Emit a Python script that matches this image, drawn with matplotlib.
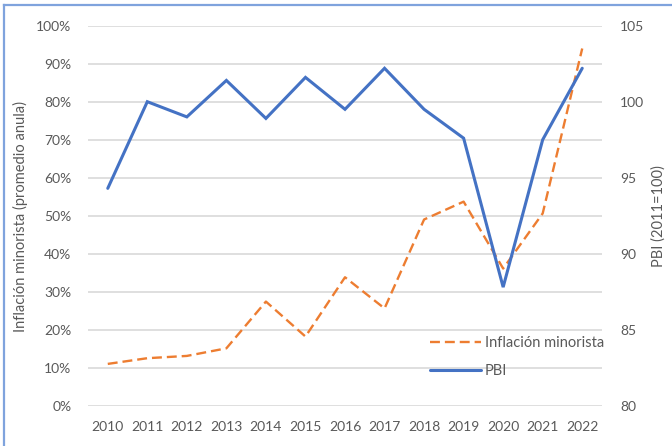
import matplotlib
matplotlib.use("Agg")
import matplotlib.pyplot as plt
from matplotlib.lines import Line2D

plt.rcParams['font.family'] = ['Lato', 'DejaVu Sans']

years = ['2010', '2011', '2012', '2013', '2014', '2015', '2016',
         '2017', '2018', '2019', '2020', '2021', '2022']
inflacion = [11.0, 12.5, 13.1, 15.1, 27.4, 18.2, 33.8,
             25.6, 49.0, 53.7, 36.1, 50.6, 94.0]          # % promedio anual
pbi = [94.3, 100.0, 99.0, 101.4, 98.9, 101.6, 99.5,
       102.2, 99.5, 97.6, 87.8, 97.5, 102.2]             # índice 2011=100
left_ticks = [0, 10, 20, 30, 40, 50, 60, 70, 80, 90, 100]
right_ticks = [80, 85, 90, 95, 100, 105]

ORANGE = '#ED7D31'
BLUE = '#4472C4'
GRID = '#D9D9D9'
TEXT = '#595959'

W, H = 672, 446
fig = plt.figure(figsize=(W / 100, H / 100), dpi=100)
fig.patch.set_facecolor('white')

ax = fig.add_axes([88 / W, 1 - 405.7 / H, (602 - 88) / W, (405.7 - 25.7) / H])
ax2 = ax.twinx()

x = list(range(len(years)))

# Inflation on the left axis
l1, = ax.plot(x, inflacion, color=ORANGE, lw=1.7, dashes=(4.2, 2.1),
              zorder=3, label='Inflación minorista')
ax.set_ylim(0, 100)
ax.set_xlim(-0.5, len(years) - 0.5)
ax.set_yticks(left_ticks)
ax.set_yticklabels([f'{t}%' for t in left_ticks])
ax.set_xticks(x)
ax.set_xticklabels(years)
ax.yaxis.grid(True, color=GRID, lw=1.2)
ax.set_axisbelow(True)

# GDP index on the right axis
l2, = ax2.plot(x, pbi, color=BLUE, lw=2.2, solid_capstyle='round',
               solid_joinstyle='miter', zorder=3, label='PBI')
ax2.set_ylim(80, 105)
ax2.set_yticks(right_ticks)

for a in (ax, ax2):
    for s in a.spines.values():
        s.set_visible(False)
    a.tick_params(length=0, labelsize=10, labelcolor=TEXT)
ax.tick_params(axis='y', pad=12)
ax.tick_params(axis='x', pad=11)
ax2.tick_params(axis='y', pad=13)

fig.text(20 / W, 1 - 216 / H, 'Inflación minorista (promedio anula)',
         rotation=90, ha='center', va='center', fontsize=10.5, color=TEXT)
fig.text(659 / W, 1 - 216 / H, 'PBI (2011=100)',
         rotation=90, ha='center', va='center', fontsize=10.5, color=TEXT)

leg = ax.legend(handles=[l1, l2], loc='center left',
                bbox_to_anchor=((430 - 88) / 514, (405.7 - 357) / 380),
                frameon=False, fontsize=10.5, labelcolor=TEXT,
                handlelength=3.5, handletextpad=0.25, labelspacing=0.95,
                borderpad=0, borderaxespad=0)
leg.set_zorder(5)

# Thin blue frame along the top and left edges
fig.add_artist(Line2D([4 / W, 1], [1 - 5 / H, 1 - 5 / H], transform=fig.transFigure,
                      color='#7FA3DD', lw=1.6))
fig.add_artist(Line2D([4 / W, 4 / W], [0, 1 - 5 / H], transform=fig.transFigure,
                      color='#7FA3DD', lw=1.6))

fig.savefig('out.png', dpi=100)
